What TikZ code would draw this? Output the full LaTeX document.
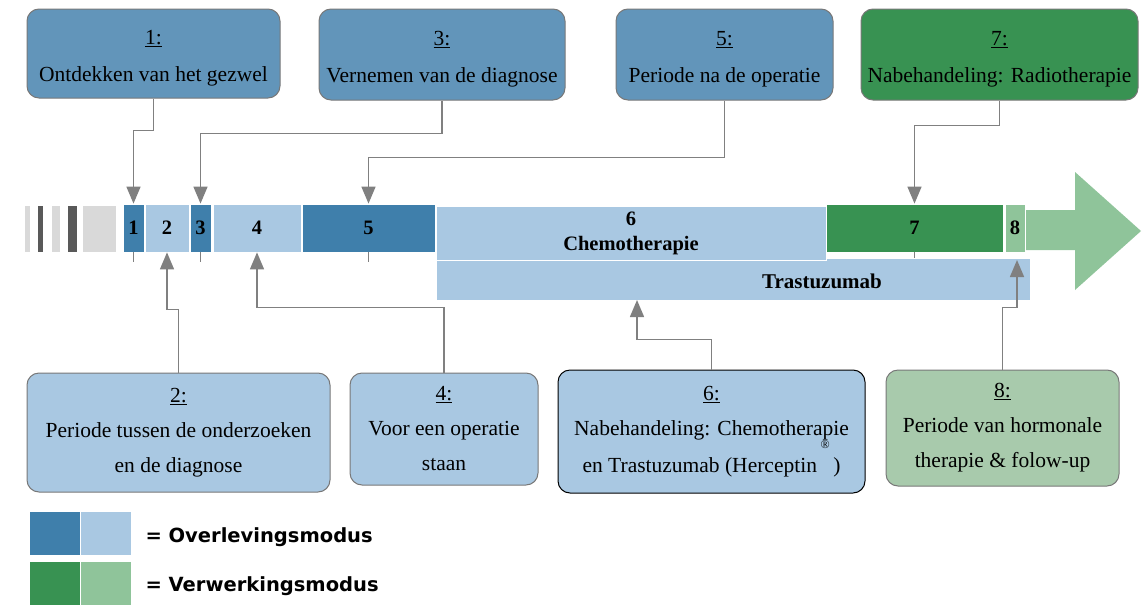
\documentclass[tikz,border=0pt]{standalone}
\usepackage{fontspec}
\setmainfont{Liberation Serif}
\newfontfamily\legendfont{DejaVu Sans}
\usetikzlibrary{arrows.meta}
\definecolor{topblue}{RGB}{98,149,186}
\definecolor{darkblue}{RGB}{63,127,171}
\definecolor{lightblue}{RGB}{169,200,226}
\definecolor{darkgreen}{RGB}{56,146,82}
\definecolor{lightgreen}{RGB}{143,196,154}
\definecolor{palegreen}{RGB}{168,202,172}
\definecolor{barlight}{RGB}{217,217,217}
\definecolor{bardark}{RGB}{89,89,89}
\definecolor{connline}{RGB}{128,128,128}
\definecolor{boxline}{RGB}{120,120,120}
\newcommand{\topstrut}{\rule{0pt}{23pt}}
\begin{document}
\begin{tikzpicture}[x=1pt,y=-1pt,
  box/.style={rounded corners=12pt,draw=boxline,line width=1pt,align=center,inner sep=0pt,font=\fontsize{21.5}{37}\selectfont},
  lowbox/.style={box,font=\fontsize{21.5}{35}\selectfont},
  seg/.style={draw=white,line width=0.8pt,inner sep=0pt,minimum height=48pt,font=\bfseries\fontsize{20.5}{25}\selectfont},
  bar/.style={inner sep=0pt,minimum height=46pt},
  conn/.style={draw=connline,line width=1.5pt,-{Triangle[length=17pt,width=14pt]}},
  tick/.style={draw=connline,line width=1pt},
  legend/.style={inner sep=0pt,minimum width=50pt,minimum height=43pt}]
  \useasboundingbox (0,0) rectangle (1142,605);

  \fill[lightgreen] (1025,210) -- (1075,210) -- (1075,172) -- (1141,231) -- (1075,290) -- (1075,250) -- (1025,250) -- cycle;

  \node[bar,fill=barlight,minimum width=5pt] (g1) at (27.5,229) {};
  \node[bar,fill=bardark,minimum width=5pt] (g2) at (40.5,229) {};
  \node[bar,fill=barlight,minimum width=8pt] (g3) at (56,229) {};
  \node[bar,fill=bardark,minimum width=9pt] (g4) at (72.5,229) {};
  \node[bar,fill=barlight,minimum width=33pt] (g5) at (99.5,229) {};

  \node[seg,fill=darkblue,minimum width=21pt] (s1) at (133.5,228) {1};
  \node[seg,fill=lightblue,minimum width=44pt] (s2) at (167,228) {2};
  \node[seg,fill=darkblue,minimum width=21pt] (s3) at (200.5,228) {3};
  \node[seg,fill=lightblue,minimum width=88pt] (s4) at (257,228) {4};
  \node[seg,fill=darkblue,minimum width=133pt] (s5) at (368.5,228) {5};
  \node[seg,fill=lightblue,minimum width=594pt,minimum height=42pt] (trast) at (733,279) {};
  \node[seg,fill=lightblue,minimum width=390pt,minimum height=54pt,align=center] (s6) at (631,233) {6\\Chemotherapie};
  \node[seg,fill=darkgreen,minimum width=177pt] (s7) at (914.5,228) {7};
  \node[seg,fill=lightgreen,minimum width=20pt] (s8) at (1015,228) {8};
  \node[font=\bfseries\fontsize{21}{25}\selectfont] (trastlabel) at (822,281) {Trastuzumab};

  \node[box,fill=topblue,minimum width=253pt,minimum height=89pt] (b1) at (153.5,53.5) {\topstrut\underline{1:}\\Ontdekken van het gezwel};
  \node[box,fill=topblue,minimum width=246pt,minimum height=91pt] (b3) at (442,54.5) {\topstrut\underline{3:}\\Vernemen van de diagnose};
  \node[box,fill=topblue,minimum width=217pt,minimum height=91pt] (b5) at (724.5,54.5) {\topstrut\underline{5:}\\Periode na de operatie};
  \node[box,fill=darkgreen,minimum width=277pt,minimum height=91pt] (b7) at (999.5,54.5) {\topstrut\underline{7:}\\Nabehandeling: Radiotherapie};

  \node[lowbox,fill=lightblue,minimum width=303pt,minimum height=119pt] (b2) at (178.5,432.5) {\underline{2:}\\Periode tussen de onderzoeken\\en de diagnose};
  \node[lowbox,fill=lightblue,minimum width=188pt,minimum height=112pt] (b4) at (444,429) {\underline{4:}\\Voor een operatie\\staan};
  \node[lowbox,fill=lightblue,draw=black,minimum width=307pt,minimum height=123pt] (b6) at (711.5,431.5) {\underline{6:}\\Nabehandeling: Chemotherapie\\en Trastuzumab (Herceptin\,\raisebox{1.1em}{\fontsize{12}{12}\selectfont\textregistered}\,)};
  \node[lowbox,fill=palegreen,minimum width=233pt,minimum height=116pt] (b8) at (1002.5,428) {\underline{8:}\\Periode van hormonale\\therapie \& folow-up};

  \coordinate (t6) at (637,300);
  \coordinate (t8) at (1017,260);

  \draw[conn] (b1.south) -- ++(0,32) -| (s1.north);
  \draw[conn] (b3.south) -- ++(0,33) -| (s3.north);
  \draw[conn] (b5.south) -- ++(0,57) -| (s5.north);
  \draw[conn] (b7.south) -- ++(0,25) -| (s7.north);
  \draw[conn] (b2.north) -- ++(0,-63) -| (s2.south);
  \draw[conn] (b4.north) -- ++(0,-65) -| (s4.south);
  \draw[conn] (b6.north) -- ++(0,-30) -| (t6);
  \draw[conn] (b8.north) -- ++(0,-62) -| (t8);

  \draw[tick] (s1.south) -- ++(0,10);
  \draw[tick] (s3.south) -- ++(0,10);
  \draw[tick] (s5.south) -- ++(0,10);
  \draw[tick] (s7.south) -- ++(0,6);

  \node[legend,fill=darkblue] (l1) at (55,533.5) {};
  \node[legend,fill=lightblue] (l2) at (106,533.5) {};
  \node[legend,fill=darkgreen] (l3) at (55,583.5) {};
  \node[legend,fill=lightgreen] (l4) at (106,583.5) {};
  \node[anchor=west,font=\legendfont\bfseries\fontsize{19.5}{22}\selectfont] (m1) at (142,537) {= Overlevingsmodus};
  \node[anchor=west,font=\legendfont\bfseries\fontsize{19.5}{22}\selectfont] (m2) at (142,586) {= Verwerkingsmodus};
\end{tikzpicture}
\end{document}
